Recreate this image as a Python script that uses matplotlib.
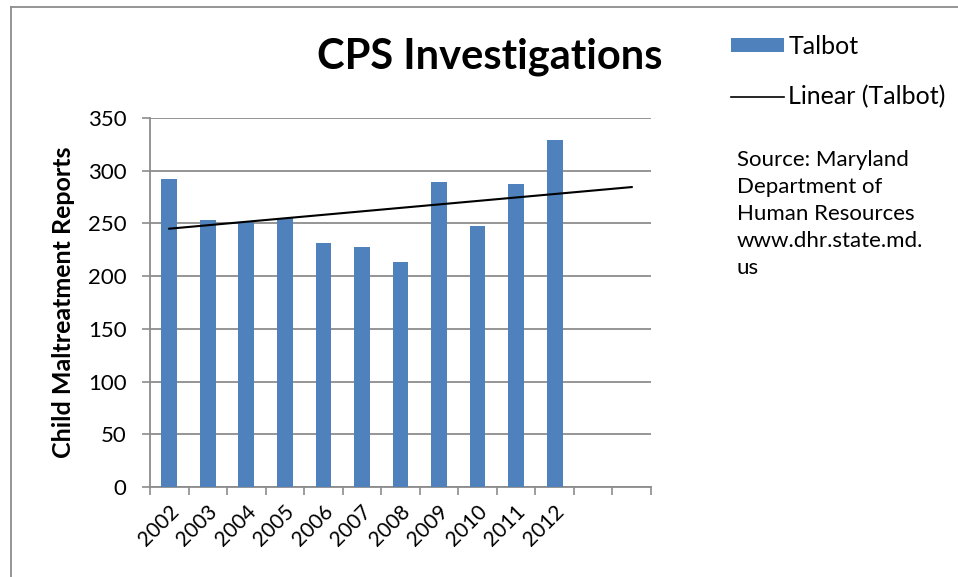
import numpy as np
import matplotlib
matplotlib.use("Agg")
import matplotlib.pyplot as plt
from matplotlib.lines import Line2D
from matplotlib.patches import Patch

plt.rcParams['font.family'] = ['Lato', 'DejaVu Sans']

# Talbot County CPS investigations per year
years = ['2002', '2003', '2004', '2005', '2006', '2007', '2008',
         '2009', '2010', '2011', '2012']
reports = [292, 253, 251, 255, 231, 228, 213, 289, 248, 287, 329]
forecast_periods = 2

bar_color = '#4F81BD'
grid_color = '#8C8C8C'

fig = plt.figure(figsize=(9.58, 5.77), dpi=100)
ax = fig.add_axes([150 / 958, 90 / 577, 501 / 958, 369 / 577])

x = np.arange(len(years))
ax.bar(x, reports, width=0.41, color=bar_color, zorder=3)

# linear trendline, extended forward two periods
coef = np.polyfit(x, reports, 1)
xt = np.arange(len(years) + forecast_periods)
ax.plot(xt, np.polyval(coef, xt), color='black', lw=1.5, zorder=4)

n_slots = len(years) + forecast_periods
ax.set_xlim(-0.5, n_slots - 0.5)
ax.set_ylim(0, 350)
ax.set_yticks(np.arange(0, 351, 50))
ax.yaxis.grid(True, color=grid_color, lw=1.3, zorder=0)
ax.tick_params(axis='y', length=6, width=1.2, color=grid_color,
               labelsize=16, pad=11)

# category boundaries get the tick marks, labels sit under each bar
ax.set_xticks(np.arange(-0.5, n_slots, 1.0))
ax.set_xticklabels([])
ax.tick_params(axis='x', length=6, width=1.2, color=grid_color)
for xi, lab in zip(x, years):
    ax.text(xi - 0.02, -14, lab, rotation=45, ha='right', va='top',
            fontsize=15, rotation_mode='anchor')

for side in ['top', 'right']:
    ax.spines[side].set_visible(False)
for side in ['left', 'bottom']:
    ax.spines[side].set_color(grid_color)
    ax.spines[side].set_linewidth(1.3)

ax.set_ylabel('Child Maltreatment Reports', fontsize=18, fontweight='bold',
              labelpad=9)

fig.text(490 / 958, 1 - 57 / 577, 'CPS Investigations', ha='center',
         va='center', fontsize=30, fontweight='bold')

handles = [Patch(facecolor=bar_color, edgecolor='none'),
           Line2D([0], [0], color='black', lw=1.2)]
fig.legend(handles, ['Talbot', 'Linear (Talbot)'], loc='upper left',
           bbox_to_anchor=(731 / 958, 1 - 35 / 577), frameon=False,
           fontsize=18, handlelength=2.1, handleheight=0.5,
           handletextpad=0.2, labelspacing=1.1, borderaxespad=0,
           borderpad=0)

source = ['Source: Maryland', 'Department of', 'Human Resources',
          'www.dhr.state.md.', 'us']
for i, line in enumerate(source):
    fig.text(737 / 958, 1 - (160 + 27 * i) / 577, line, ha='left',
             va='center', fontsize=16)

# chart border, cut off at the right and bottom
fig.add_artist(Line2D([11 / 958, 11 / 958], [0, 1 - 6.5 / 577],
                      color='#8C8C8C', lw=1.3, transform=fig.transFigure))
fig.add_artist(Line2D([11 / 958, 1], [1 - 6.5 / 577, 1 - 6.5 / 577],
                      color='#8C8C8C', lw=1.3, transform=fig.transFigure))

fig.savefig('out.png', dpi=100, facecolor='white')
